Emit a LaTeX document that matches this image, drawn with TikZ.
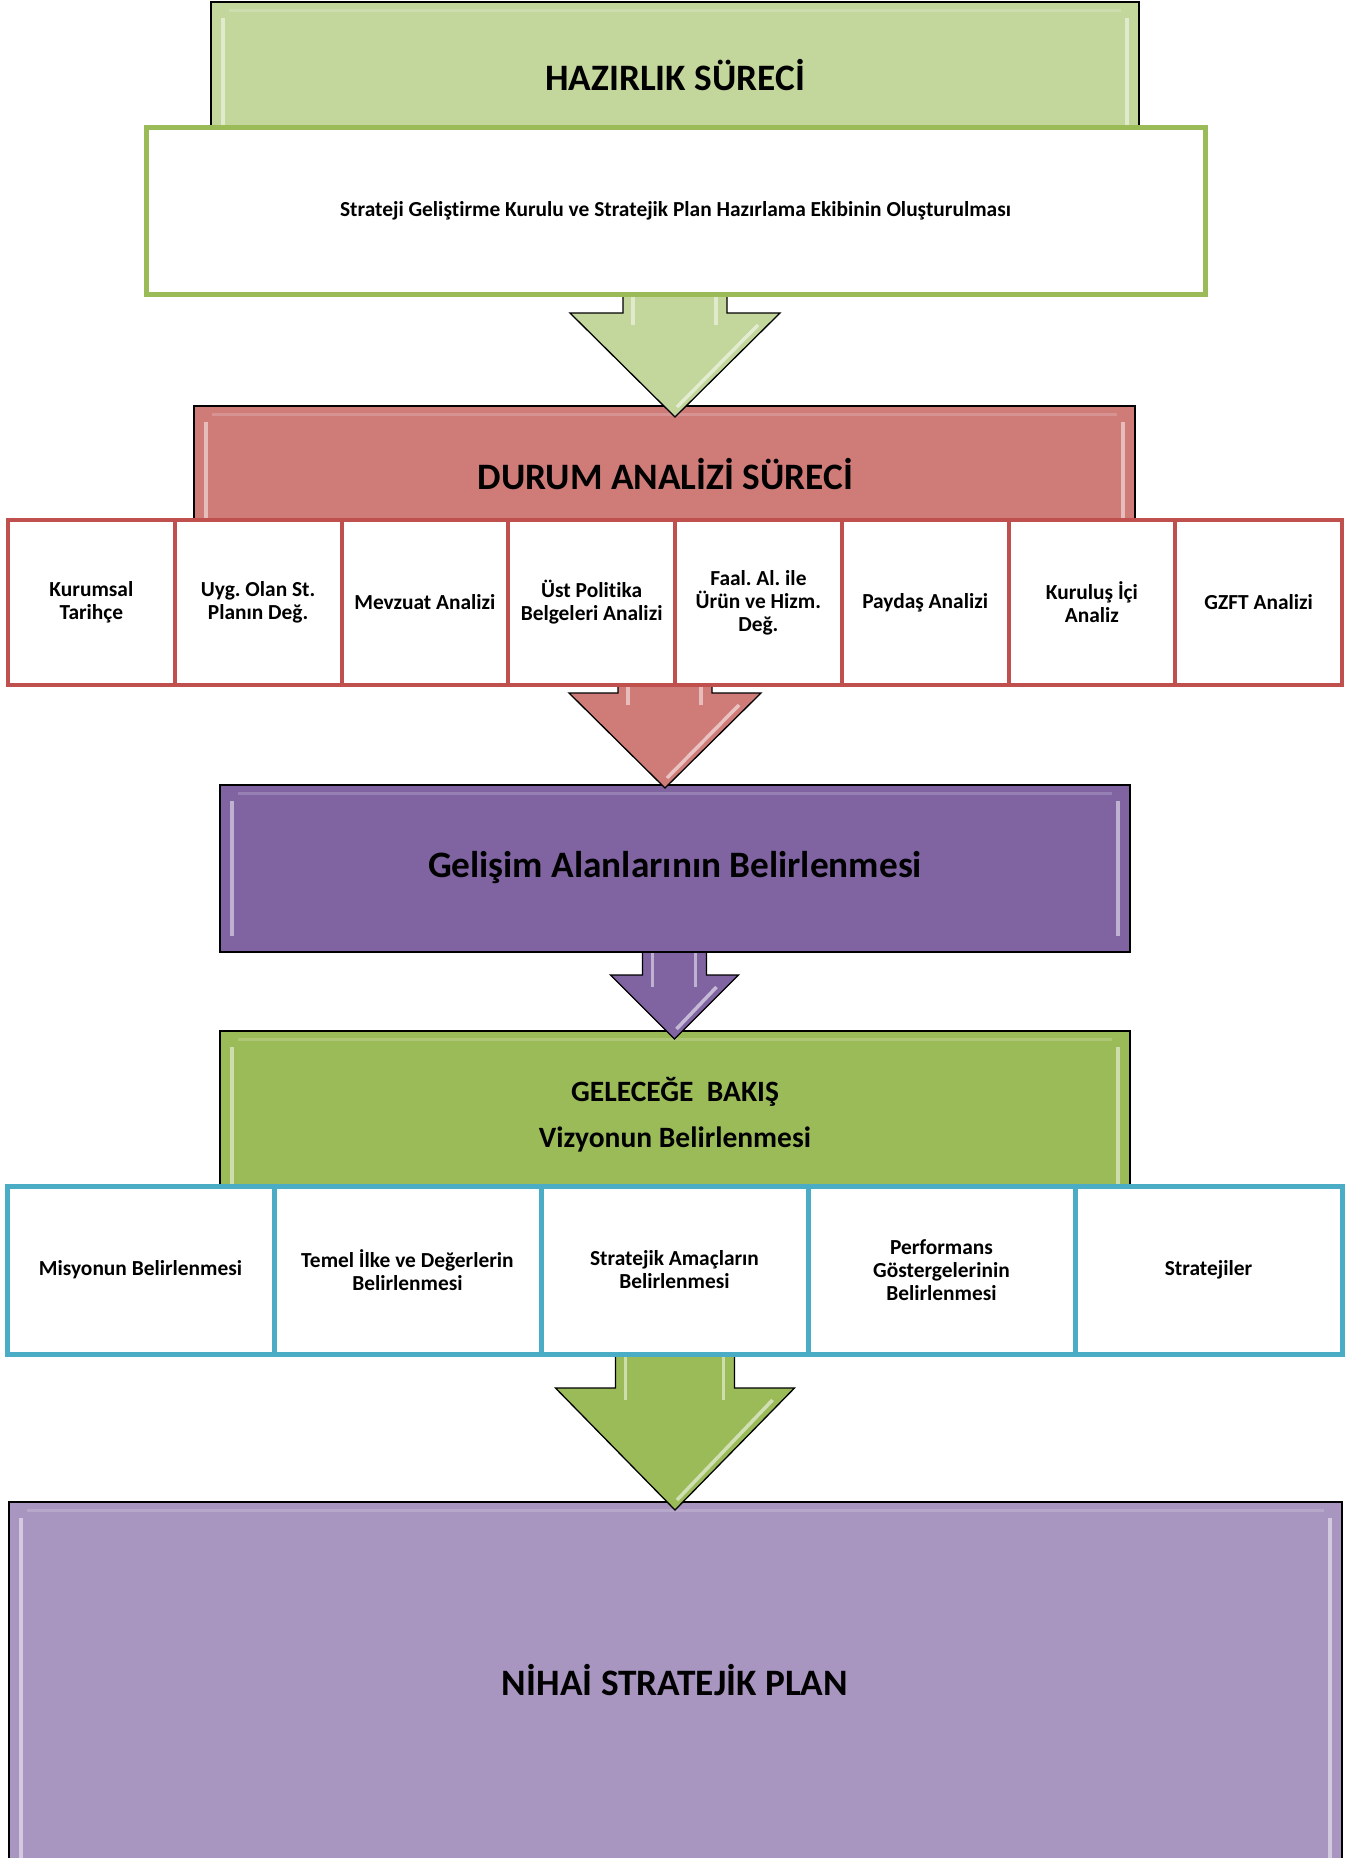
\documentclass[tikz,border=0pt]{standalone}
\usepackage{fontspec}
\setmainfont{Carlito}[Ligatures=NoCommon]
\usetikzlibrary{calc}
\definecolor{gA}{HTML}{C3D69B}
\definecolor{gB}{HTML}{9BBB59}
\definecolor{rA}{HTML}{CF7C79}
\definecolor{rB}{HTML}{C0504D}
\definecolor{pA}{HTML}{8064A2}
\definecolor{pB}{HTML}{A895C0}
\definecolor{bB}{HTML}{4BACC6}
\frenchspacing
\newcommand\ftitle{\bfseries\fontsize{37.3}{44}\selectfont}
\newcommand\fsub{\bfseries\fontsize{29.5}{35}\selectfont}
\newcommand\fcell{\bfseries\fontsize{21.4}{23}\selectfont}
\newcommand\boxbevel[1]{%
  \draw[white,opacity=0.5,line width=4] ($(#1.north west)+(12,16)$) -- ($(#1.south west)+(12,-16)$);
  \draw[white,opacity=0.5,line width=4] ($(#1.north east)+(-12,16)$) -- ($(#1.south east)+(-12,-16)$);
  \draw[white,opacity=0.18,line width=3] ($(#1.north west)+(18,8)$) -- ($(#1.north east)+(-18,8)$);
}
% cx, ytop, yhead, ytip, shaft half, head half, colour
\newcommand\blkarrow[7]{%
  \filldraw[fill=#7,draw=black,line width=1.3,line join=miter]
    ({#1-#5},{#2}) -- ({#1-#5},{#3}) -- ({#1-#6},{#3}) -- ({#1},{#4})
    -- ({#1+#6},{#3}) -- ({#1+#5},{#3}) -- ({#1+#5},{#2}) -- cycle;
  \draw[white,opacity=0.5,line width=3.5] ({#1-#5+10},{#2}) -- ({#1-#5+10},{#3+12});
  \draw[white,opacity=0.5,line width=3.5] ({#1+#5-11},{#2}) -- ({#1+#5-11},{#3+12});
  \draw[white,opacity=0.55,line width=3.5] ({#1+#6-22},{#3+12}) -- ({#1+2},{#4-10});
}
\begin{document}
\begin{tikzpicture}[x=1pt,y=-1pt,
  panel/.style={rectangle,draw=black,line width=1.5,inner sep=0pt,outer sep=0pt},
  cellR/.style={rectangle,draw=rB,line width=4,fill=white,minimum width=166.75,minimum height=165,align=center,font=\fcell,inner sep=2pt},
  cellB/.style={rectangle,draw=bB,line width=5,fill=white,minimum width=267,minimum height=168,align=center,font=\fcell,inner sep=2pt},
  lbl/.style={inner sep=0pt,align=center}]
\clip (0,0) rectangle (1356,1858);
\fill[white] (0,0) rectangle (1356,1858);

% title panels
\node[panel,fill=gA,minimum width=928,minimum height=140] (hz) at (675,72) {};
\node[panel,fill=rA,minimum width=941,minimum height=130] (da) at (664.5,471) {};
\node[panel,fill=pA,minimum width=910,minimum height=167] (ga) at (675,868.5) {};
\node[panel,fill=gB,minimum width=910,minimum height=180] (gb) at (675,1121) {};
\node[panel,fill=pB,minimum width=1333,minimum height=380] (np) at (675.5,1692) {};
\boxbevel{hz}\boxbevel{da}\boxbevel{ga}\boxbevel{gb}\boxbevel{np}

% block arrows
\blkarrow{675}{285}{313}{417}{52}{105}{gA}
\blkarrow{665}{675}{693}{788}{47}{96}{rA}
\blkarrow{674.5}{952}{975}{1039}{32}{64}{pA}
\blkarrow{675}{1345}{1388}{1510}{59.5}{119.5}{gB}
\draw[black,line width=1.5] (ga.south west) -- (ga.south east);

% texts in panels
\node[lbl,font=\ftitle] (thz) at (675,75) {HAZIRLIK SÜRECİ};
\node[lbl,font=\ftitle] (tda) at (665.5,474) {DURUM ANALİZİ SÜRECİ};
\node[lbl,font=\ftitle] (tga) at (675,868) {Gelişim Alanlarının Belirlenmesi};
\node[lbl,font=\fsub] (tgb1) at (675,1092) {GELECEĞE\ \ BAKIŞ};
\node[lbl,font=\fsub] (tgb2) at (675,1139) {Vizyonun Belirlenmesi};
\node[lbl,font=\ftitle] (tnp) at (675,1680) {NİHAİ STRATEJİK PLAN};

% white box
\node[rectangle,draw=gB,line width=5,fill=white,minimum width=1059,minimum height=167,font=\fcell] (wb) at (675.5,210.5) {Strateji Geliştirme Kurulu ve Stratejik Plan Hazırlama Ekibinin Oluşturulması};

% red row
\node[cellR] (r1) at (91.375,602.5) {Kurumsal\\Tarihçe};
\node[cellR] (r2) at (258.125,602.5) {Uyg. Olan St.\\Planın Değ.};
\node[cellR] (r3) at (424.875,602.5) {Mevzuat Analizi};
\node[cellR] (r4) at (591.625,602.5) {Üst Politika\\Belgeleri Analizi};
\node[cellR] (r5) at (758.375,602.5) {Faal. Al. ile\\Ürün ve Hizm.\\Değ.};
\node[cellR] (r6) at (925.125,602.5) {Paydaş Analizi};
\node[cellR] (r7) at (1091.875,602.5) {Kuruluş İçi\\Analiz};
\node[cellR] (r8) at (1258.625,602.5) {GZFT Analizi};

% blue row
\node[cellB] (b1) at (140.5,1270) {Misyonun Belirlenmesi};
\node[cellB] (b2) at (407.5,1270) {Temel İlke ve Değerlerin\\Belirlenmesi};
\node[cellB] (b3) at (674.5,1270) {Stratejik Amaçların\\Belirlenmesi};
\node[cellB] (b4) at (941.5,1270) {Performans\\Göstergelerinin\\Belirlenmesi};
\node[cellB] (b5) at (1208.5,1270) {Stratejiler};
\end{tikzpicture}
\end{document}
